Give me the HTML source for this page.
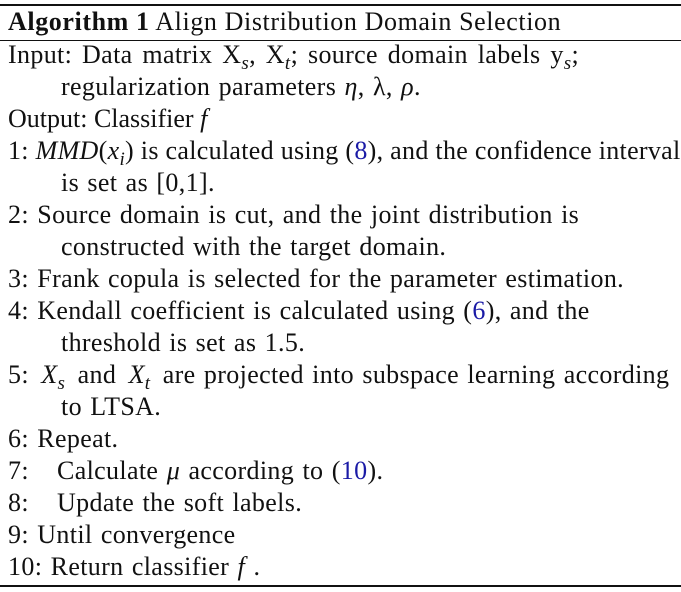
<!DOCTYPE html>
<html><head><meta charset="utf-8"><style>
body{margin:0;width:681px;height:592px;background:#fff;position:relative;overflow:hidden;font-family:"Liberation Serif",serif;color:#111;}
.r{position:absolute;left:0;width:681px;background:#111;}
.l{position:absolute;left:8px;font-size:26px;line-height:32px;height:32px;white-space:nowrap;letter-spacing:0.35px;word-spacing:1.5px;}
.i{left:61px;}
a{color:#1a1aa6;text-decoration:none;}
sub{font-size:19px;vertical-align:-6px;line-height:0;font-style:italic;}
.g{display:inline-block;width:49px;}
.m{margin:0 4px;}
</style></head><body>
<div class="r" style="top:4px;height:2px"></div>
<div class="l" style="top:6px;letter-spacing:0.6px;word-spacing:0"><b>Algorithm 1</b> Align Distribution Domain Selection</div>
<div class="r" style="top:40px;height:1px"></div>
<div class="l" style="top:39px;word-spacing:3px">Input: Data matrix X<sub>s</sub>, X<sub>t</sub>; source domain labels y<sub>s</sub>;</div>
<div class="l i" style="top:71px">regularization parameters <i>η</i>, λ, <i>ρ</i>.</div>
<div class="l" style="top:103px;letter-spacing:0;word-spacing:0">Output: Classifier <i>f</i></div>
<div class="l" style="top:135px;letter-spacing:0.3px;word-spacing:0">1: <i>MMD</i>(<i>x<sub>i</sub></i>) is calculated using (<a>8</a>), and the confidence interval</div>
<div class="l i" style="top:167px">is set as [0,1].</div>
<div class="l" style="top:199px">2: Source domain is cut, and the joint distribution is</div>
<div class="l i" style="top:231px">constructed with the target domain.</div>
<div class="l" style="top:263px">3: Frank copula is selected for the parameter estimation.</div>
<div class="l" style="top:295px">4: Kendall coefficient is calculated using (<a>6</a>), and the</div>
<div class="l i" style="top:327px">threshold is set as 1.5.</div>
<div class="l" style="top:359px">5: <i class="m">X<sub>s</sub></i> and <i class="m">X<sub>t</sub></i> are projected into subspace learning according</div>
<div class="l i" style="top:391px">to LTSA.</div>
<div class="l" style="top:423px">6: Repeat.</div>
<div class="l" style="top:455px"><span class="g">7:</span>Calculate <i>μ</i> according to (<a>10</a>).</div>
<div class="l" style="top:487px"><span class="g">8:</span>Update the soft labels.</div>
<div class="l" style="top:519px">9: Until convergence</div>
<div class="l" style="top:551px">10: Return classifier <i>f</i> .</div>
<div class="r" style="top:585px;height:2px"></div>
</body></html>
